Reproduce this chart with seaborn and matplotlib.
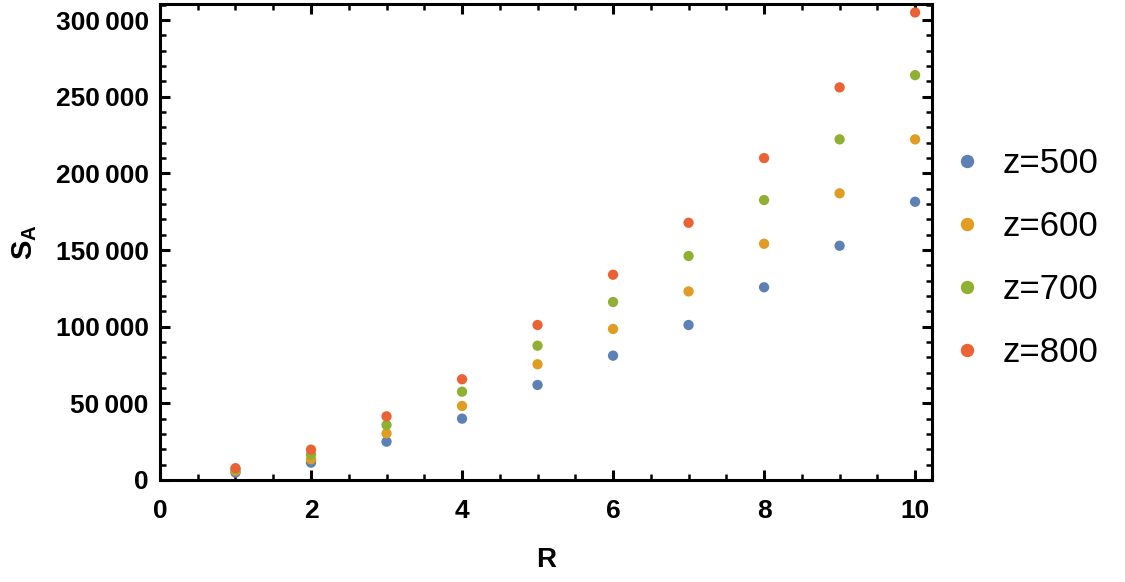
import numpy as np
import pandas as pd
import matplotlib
matplotlib.use("Agg")
import matplotlib.pyplot as plt
import seaborn as sns
from matplotlib.ticker import MultipleLocator, FuncFormatter

R = [1, 2, 3, 4, 5, 6, 7, 8, 9, 10]
z500 = [4800, 11300, 25000, 40000, 62000, 81100, 101100, 125700, 152800, 181500]
z600 = [6000, 13500, 30400, 48300, 75500, 98500, 123000, 154100, 187000, 222200]
z700 = [7000, 16500, 35900, 57600, 87600, 116100, 146100, 182600, 222200, 264100]
z800 = [7700, 19800, 41500, 65700, 101100, 133900, 167800, 210000, 256100, 305000]
labels = ["z=500", "z=600", "z=700", "z=800"]
colors = ["#5E81B5", "#E19C24", "#8FB032", "#EB6235"]

rows = []
for lab, vals in zip(labels, [z500, z600, z700, z800]):
    for r, v in zip(R, vals):
        rows.append({"R": r, "S": v, "z": lab})
df = pd.DataFrame(rows)

sns.set_theme(style="white")
plt.rcParams["font.family"] = ["Liberation Sans", "DejaVu Sans"]
plt.rcParams["text.color"] = "black"
plt.rcParams["axes.labelcolor"] = "black"
plt.rcParams["xtick.color"] = "black"
plt.rcParams["ytick.color"] = "black"
plt.rcParams["mathtext.fontset"] = "custom"
plt.rcParams["mathtext.rm"] = "Liberation Sans"
plt.rcParams["mathtext.bf"] = "Liberation Sans:bold"
plt.rcParams["mathtext.it"] = "Liberation Sans:italic"

fig = plt.figure(figsize=(11.25, 5.82), dpi=100)
ax = fig.add_axes([0.1422, 0.1753, 0.8282 - 0.1422, 0.9931 - 0.1753])

sns.scatterplot(data=df, x="R", y="S", hue="z", palette=colors, hue_order=labels,
                s=55, edgecolor="none", linewidth=0, ax=ax, legend=True)

ax.set_xlim(0, 10.22)
ax.set_ylim(0, 310500)
ax.xaxis.set_major_locator(MultipleLocator(2))
ax.xaxis.set_minor_locator(MultipleLocator(0.5))
ax.yaxis.set_major_locator(MultipleLocator(50000))
ax.yaxis.set_minor_locator(MultipleLocator(10000))

def fmt(v, pos):
    v = int(round(v))
    if v == 0:
        return "0"
    return f"{v:,}".replace(",", "\u2009")
ax.yaxis.set_major_formatter(FuncFormatter(fmt))

for sp in ax.spines.values():
    sp.set_visible(True)
    sp.set_color("black")
    sp.set_linewidth(2.2)

ax.tick_params(which="both", direction="in", top=True, right=True, bottom=True, left=True,
               color="black", labelcolor="black")
ax.tick_params(which="major", length=7, width=2.2, labelsize=19, pad=8)
ax.tick_params(axis="x", which="major", pad=14)
ax.tick_params(which="minor", length=4, width=1.8)
for t in ax.get_xticklabels() + ax.get_yticklabels():
    t.set_fontweight("bold")

ax.set_xlabel("R", fontsize=20, fontweight="bold", labelpad=17, color="black")
ax.set_ylabel(r"$\mathbf{S}_{\mathbf{A}}$", fontsize=21, labelpad=12, color="black")
ax.yaxis.set_label_coords(-0.157, 0.5)
ax.grid(False)

leg = ax.legend(loc="center left", bbox_to_anchor=(1.032, 0.466), frameon=False,
                fontsize=25, labelspacing=0.86, handlelength=0.6, handletextpad=0.72,
                borderpad=0, borderaxespad=0, markerscale=1.3)
for h in leg.legend_handles:
    try:
        h.set_markeredgecolor("none")
    except AttributeError:
        h.set_edgecolor("none")
for t in leg.get_texts():
    t.set_color("black")

fig.savefig("out.png", dpi=100)
